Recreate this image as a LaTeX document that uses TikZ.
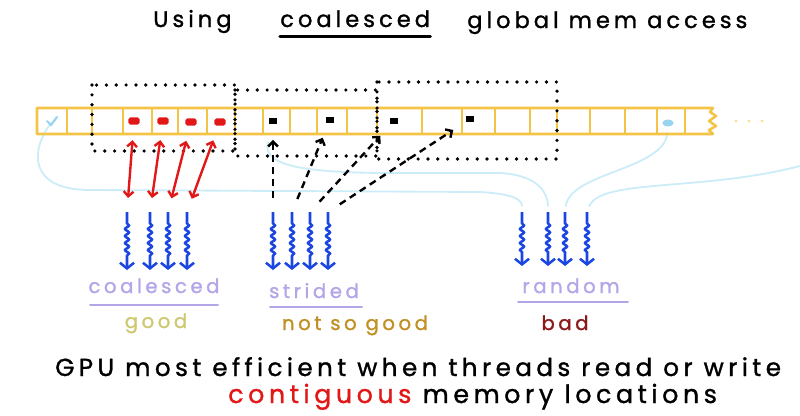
\documentclass[tikz,border=0pt]{standalone}
\usepackage{fontspec}
\newfontfamily\handfont[LetterSpace=18, FakeBold=1.2]{Poppins}
\usetikzlibrary{calc, positioning}
\usetikzlibrary{arrows.meta}
\usetikzlibrary{decorations.pathmorphing}

\definecolor{stripyellow}{RGB}{244,196,70}
\definecolor{markred}{RGB}{226,24,24}
\definecolor{threadblue}{RGB}{28,70,226}
\definecolor{lavender}{RGB}{180,164,232}
\definecolor{goodolive}{RGB}{206,200,112}
\definecolor{sogold}{RGB}{192,144,36}
\definecolor{badred}{RGB}{140,26,26}
\definecolor{faintblue}{RGB}{204,236,248}
\definecolor{checkblue}{RGB}{150,212,240}

\tikzset{
  strip/.style={stripyellow, line width=1.8pt, line join=round},
  dotbox/.style={line width=2.6pt, line cap=round, dash pattern=on 0pt off 7pt},
  redmark/.style={fill=markred, rounded corners=1.2pt, minimum width=8pt, minimum height=5pt, inner sep=0pt},
  blackmark/.style={fill=black, minimum width=5pt, minimum height=4.5pt, inner sep=0pt},
  thread/.style={threadblue, line width=1.8pt, -{Straight Barb[length=4pt, width=10pt]},
    decorate, decoration={snake, amplitude=1.4pt, segment length=5pt, pre length=8pt, post length=9pt}},
  rw/.style={markred, line width=1.7pt, {Straight Barb[length=3.5pt, width=7pt]}-{Straight Barb[length=3.5pt, width=7pt]},
    shorten <=10pt, shorten >=11pt},
  strideline/.style={line width=1.7pt, dash pattern=on 5pt off 3.5pt, -{Straight Barb[length=3.5pt, width=7pt]},
    shorten <=10pt, shorten >=11pt},
  rndline/.style={faintblue, line width=1.3pt},
  uline/.style={lavender, line width=1.4pt, line cap=round},
  ttl/.style={font=\handfont\fontsize{16}{19}\selectfont, inner sep=0pt},
  msg/.style={font=\handfont\fontsize{17.5}{21}\selectfont, inner sep=0pt},
  lbl/.style={font=\handfont\fontsize{14}{17}\selectfont, inner sep=0pt, anchor=base}
}

\begin{document}
\begin{tikzpicture}[x=0.025cm, y=-0.025cm]
\useasboundingbox (0,0) rectangle (800,415);

% threads
\foreach \n/\x in {1/127, 2/150, 3/168, 4/187} {
  \coordinate (ct\n) at (\x,212);
  \coordinate (cb\n) at (\x,270);
}
\foreach \n/\x in {1/273, 2/292, 3/310, 4/328} {
  \coordinate (st\n) at (\x,212);
  \coordinate (sb\n) at (\x,270);
}
\foreach \n/\x in {1/522, 2/548, 3/565, 4/587} {
  \coordinate (rt\n) at (\x,212);
  \coordinate (rb\n) at (\x,266);
}

% memory
\coordinate (farR) at (800,166);
\node[inner sep=0pt] (chk1) at (52,122) {};
\node[inner sep=0pt] (chk2) at (668,123) {};

% faint random accesses
\draw[rndline, shorten >=4pt] (chk1) .. controls (30,150) and (28,190) .. (90,190)
  -- (480,192) .. controls (515,194) and (522,200) .. (rt1);
\draw[rndline, shorten >=4pt] (268,142) .. controls (262,165) and (300,172) .. (380,173)
  -- (500,173) .. controls (540,175) and (548,195) .. (rt2);
\draw[rndline, shorten <=6pt, shorten >=4pt] (chk2) .. controls (665,170) and (570,172) .. (rt3);
\draw[rndline, shorten >=4pt] (farR) .. controls (700,192) and (600,178) .. (rt4);

\draw[strip] (713,108) -- (37,108) -- (37,134) -- (713,134)
  -- (709,130) -- (716,126) -- (709,121) -- (716,116) -- (710,112) -- cycle;
\foreach \x in {67,92,123,152,178,207,235,263,290,317,347,377,422,462,495,530,557,590,625,657,685}
  \draw[strip] (\x,108) -- (\x,134);
\foreach \x in {736,749,762}
  \fill[stripyellow!55] (\x,121) circle (1.1pt);

\draw[checkblue, line width=1.5pt, line cap=round] (47,121) -- (51,125) -- (57,117);
\fill[checkblue] (chk2) ellipse (4pt and 2.5pt);

\node[redmark] (r1) at (134,121) {};
\node[redmark] (r2) at (163,121) {};
\node[redmark] (r3) at (191,122) {};
\node[redmark] (r4) at (220,122) {};

\node[blackmark] (k1) at (273,121) {};
\node[blackmark] (k2) at (330,120) {};
\node[blackmark] (k3) at (394,121) {};
\node[blackmark] (k4) at (470,119) {};

% groups of the memory
\draw[dotbox] (92,85) rectangle (235,151);
\draw[dotbox] (235,90) rectangle (377,156);
\draw[dotbox] (377,82) rectangle (557,159);

% accesses
\foreach \n in {1,...,4} {
  \draw[rw] (ct\n) -- (r\n);
  \draw[strideline] (st\n) -- (k\n);
}

\foreach \n in {1,...,4} {
  \draw[thread] (ct\n) -- (cb\n);
  \draw[thread] (st\n) -- (sb\n);
  \draw[thread] (rt\n) -- (rb\n);
}

% labels
\node[lbl, lavender] (lcoal) at (154,293) {coalesced};
\node[lbl, lavender] (lstr) at (314,298) {strided};
\node[lbl, lavender] (lrnd) at (571,293) {random};
\draw[uline] (90,305) -- (218,305);
\draw[uline] (270,307) -- (362,307);
\draw[uline] (518,302) -- (628,302);

\node[lbl, goodolive] (lgood) at (156,328) {good};
\node[lbl, sogold] (lso) at (355,330) {not so good};
\node[lbl, badred] (lbad) at (565,330) {bad};

% title
\node[ttl, anchor=base west] (ttlA) at (153,27) {Using};
\node[ttl, anchor=base west] (ttlB) at (280,27) {coalesced};
\node[ttl, anchor=base west] (ttlC) at (467,28) {global mem access};
\draw[line width=2.2pt, line cap=round] ([yshift=-7pt]ttlB.base west) -- ([yshift=-7pt]ttlB.base east);

% bottom
\node[msg, anchor=base west] (msgA) at (55,376) {GPU most efficient when threads read or write};
\node[msg, anchor=base west, font=\handfont\fontsize{18}{21}\selectfont] (msgB) at (228,403) {\textcolor{markred}{contiguous} memory locations};
\end{tikzpicture}
\end{document}
